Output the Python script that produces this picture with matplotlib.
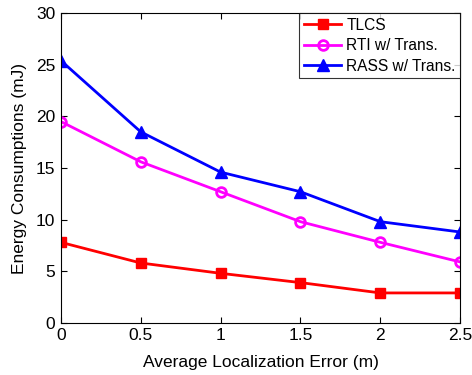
import matplotlib
matplotlib.use("Agg")
import matplotlib.pyplot as plt

plt.rcParams['font.family'] = ['Liberation Sans', 'DejaVu Sans']

x = [0, 0.5, 1, 1.5, 2, 2.5]
tlcs = [7.8, 5.8, 4.8, 3.9, 2.9, 2.9]
rti = [19.5, 15.6, 12.7, 9.8, 7.8, 5.9]
rass = [25.4, 18.5, 14.6, 12.7, 9.8, 8.8]
labels = ['TLCS', 'RTI w/ Trans.', 'RASS w/ Trans.']
xticks = [0, 0.5, 1, 1.5, 2, 2.5]
xticklabels = ['0', '0.5', '1', '1.5', '2', '2.5']
yticks = [0, 5, 10, 15, 20, 25, 30]

fig = plt.figure(figsize=(4.72, 3.75), dpi=100)
ax = fig.add_axes([0.129, 0.139, 0.846, 0.826])
ax.plot(x, tlcs, color='#ff0000', lw=2, marker='s', ms=6.5, mfc='#ff0000', label=labels[0])
ax.plot(x, rti, color='#ff00ff', lw=2, marker='o', ms=7, mfc='none', mew=2, label=labels[1])
ax.plot(x, rass, color='#0000ff', lw=2, marker='^', ms=8, mfc='#0000ff', label=labels[2])
ax.set_xlim(0, 2.5)
ax.set_ylim(0, 30)
ax.set_xticks(xticks)
ax.set_xticklabels(xticklabels)
ax.set_yticks(yticks)
ax.tick_params(direction='in', top=True, right=True, labelsize=12.5, length=4, width=0.8, pad=4)
for s in ax.spines.values():
    s.set_linewidth(0.8)
ax.set_xlabel('Average Localization Error (m)', fontsize=12.5, labelpad=8)
ax.set_ylabel('Energy Consumptions (mJ)', fontsize=12.5, labelpad=6)
leg = ax.legend(loc='upper right', fontsize=11.2, fancybox=False, edgecolor='black',
                borderaxespad=0, handlelength=2.4, handletextpad=0.3, borderpad=0.3,
                labelspacing=0.35)
leg.get_frame().set_linewidth(0.8)
fig.savefig('out.png', dpi=100)
